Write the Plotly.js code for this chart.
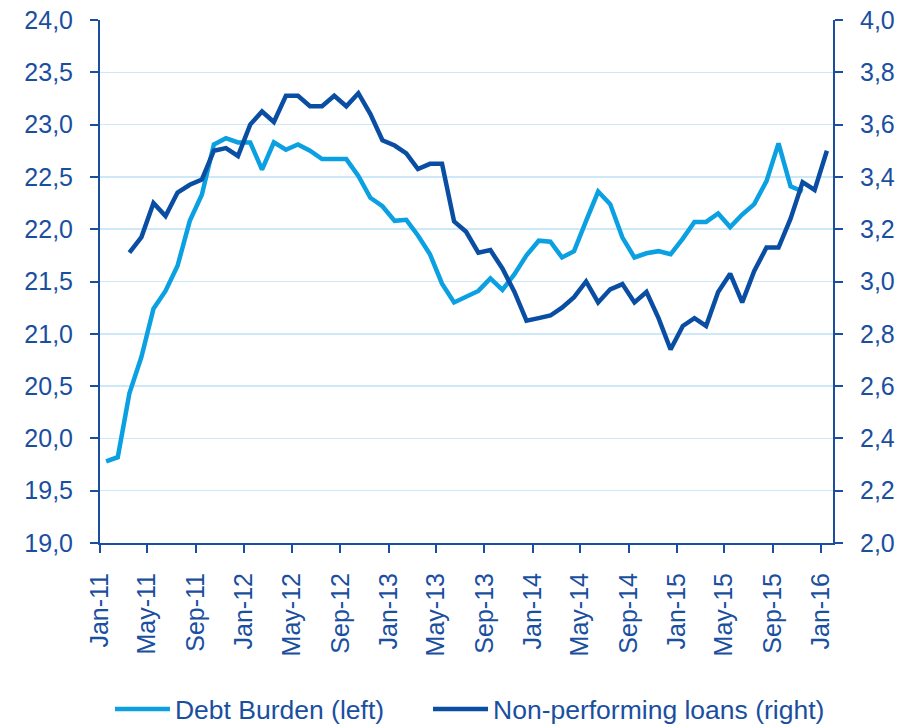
<!DOCTYPE html>
<html>
<head>
<meta charset="utf-8">
<script src="https://cdn.plot.ly/plotly-3.0.1.min.js"></script>
<style>html,body{margin:0;padding:0;background:#fff;}#chart{width:910px;height:725px;}</style>
</head>
<body>
<div id="chart"></div>
<script>
// Months Jan-11 .. Jan-16 (61 months)
const months = ["2011-01","2011-02","2011-03","2011-04","2011-05","2011-06","2011-07","2011-08","2011-09","2011-10","2011-11","2011-12",
"2012-01","2012-02","2012-03","2012-04","2012-05","2012-06","2012-07","2012-08","2012-09","2012-10","2012-11","2012-12",
"2013-01","2013-02","2013-03","2013-04","2013-05","2013-06","2013-07","2013-08","2013-09","2013-10","2013-11","2013-12",
"2014-01","2014-02","2014-03","2014-04","2014-05","2014-06","2014-07","2014-08","2014-09","2014-10","2014-11","2014-12",
"2015-01","2015-02","2015-03","2015-04","2015-05","2015-06","2015-07","2015-08","2015-09","2015-10","2015-11","2015-12",
"2016-01"];

// Debt Burden (left axis)
const debtBurden = [19.78,19.82,20.43,20.78,21.24,21.41,21.65,22.08,22.33,22.81,22.87,22.83,
22.83,22.57,22.83,22.76,22.81,22.75,22.67,22.67,22.67,22.51,22.30,22.22,
22.08,22.09,21.94,21.76,21.48,21.30,21.36,21.41,21.53,21.42,21.57,21.75,
21.89,21.88,21.73,21.79,22.08,22.36,22.24,21.92,21.73,21.77,21.79,21.76,
21.91,22.07,22.07,22.15,22.02,22.14,22.24,22.46,22.82,22.41,22.36,null,
null];

// Non-performing loans (right axis)
const npl = [null,null,3.11,3.17,3.30,3.25,3.34,3.37,3.39,3.50,3.51,3.48,
3.60,3.65,3.61,3.71,3.71,3.67,3.67,3.71,3.67,3.72,3.64,3.54,
3.52,3.49,3.43,3.45,3.45,3.23,3.19,3.11,3.12,3.05,2.96,2.85,
2.86,2.87,2.90,2.94,3.00,2.92,2.97,2.99,2.92,2.96,2.86,2.74,
2.83,2.86,2.83,2.96,3.03,2.92,3.04,3.13,3.13,3.24,3.38,3.35,
3.50];

const leftTicks = [19.0,19.5,20.0,20.5,21.0,21.5,22.0,22.5,23.0,23.5,24.0];
const rightTicks = [2.0,2.2,2.4,2.6,2.8,3.0,3.2,3.4,3.6,3.8,4.0];

const axisBlue = '#1a4fa0';
const lightBlue = '#0aa0e2';
const darkBlue = '#0a4ea3';
const font = 'Arial, "Liberation Sans", sans-serif';

const traces = [
  {x: months, y: debtBurden, name: 'Debt Burden (left)', type: 'scatter', mode: 'lines',
   xperiod: 'M1', xperiodalignment: 'middle', legend: 'legend',
   line: {color: lightBlue, width: 4.5}, yaxis: 'y', connectgaps: false},
  {x: months, y: npl, name: 'Non-performing loans (right)', type: 'scatter', mode: 'lines',
   xperiod: 'M1', xperiodalignment: 'middle', legend: 'legend2',
   line: {color: darkBlue, width: 4.5}, yaxis: 'y2', connectgaps: false}
];

const axisCommon = {
  showline: true, linecolor: axisBlue, linewidth: 2, zeroline: false,
  ticks: 'outside', ticklen: 8, tickwidth: 2, tickcolor: axisBlue,
  tickfont: {size: 25, color: axisBlue, family: font}
};

const legendCommon = {
  orientation: 'h', xanchor: 'left', y: -0.318, yanchor: 'middle',
  font: {size: 26.5, color: axisBlue, family: font}, itemwidth: 55,
  bgcolor: 'rgba(0,0,0,0)'
};

const layout = {
  width: 910, height: 725,
  margin: {l: 100, r: 77, t: 20, b: 182, autoexpand: false},
  paper_bgcolor: '#fff', plot_bgcolor: '#fff',
  separators: ', ',
  font: {family: font, color: axisBlue, size: 24},
  showlegend: true,
  legend: Object.assign({}, legendCommon, {x: 0.0136}),
  legend2: Object.assign({}, legendCommon, {x: 0.4475}),
  xaxis: Object.assign({}, axisCommon, {
    type: 'date', range: ['2011-01-01', '2016-02-01'],
    tick0: '2011-01-01', dtick: 'M4', tickformat: '%b-%y', tickangle: -90,
    showgrid: false, ticklabelstandoff: 10
  }),
  yaxis: Object.assign({}, axisCommon, {
    range: [19, 24], tickvals: leftTicks, tickformat: '.1f',
    showgrid: true, gridcolor: '#cde8f6', gridwidth: 1.5, ticklabelstandoff: 12
  }),
  yaxis2: Object.assign({}, axisCommon, {
    range: [2, 4], tickvals: rightTicks, tickformat: '.1f', overlaying: 'y', side: 'right',
    showgrid: false, ticklabelstandoff: 12
  })
};

Plotly.newPlot('chart', traces, layout, {displayModeBar: false, staticPlot: true});
</script>
</body>
</html>
